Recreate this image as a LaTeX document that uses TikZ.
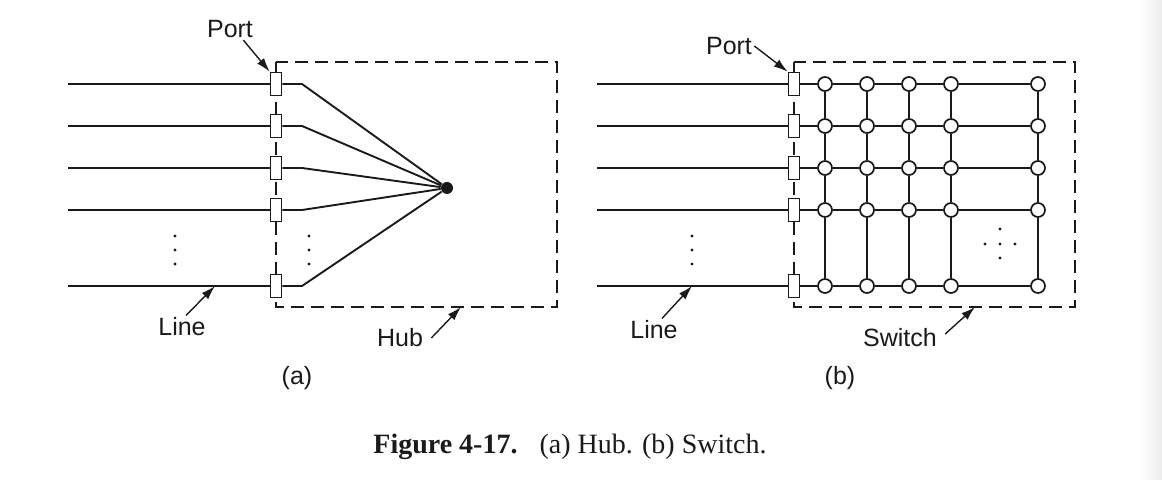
\documentclass[tikz,border=0pt]{standalone}
\usepackage{fontspec}
\setmainfont{Liberation Serif}
\setsansfont{Liberation Sans}
\usetikzlibrary{positioning,arrows.meta}
\definecolor{ink}{HTML}{1A1A1A}
\tikzset{
  font=\sffamily,
  >={Latex[length=7pt,width=4.4pt]},
  %% nodes
  portbox/.style = {draw=ink, line width=0.8pt, fill=white, inner sep=0pt,
                    minimum width=5.5pt, minimum height=11.5pt},
  xpt/.style     = {circle, draw=ink, line width=0.85pt, fill=white,
                    inner sep=0pt, minimum size=7pt},
  hubdot/.style  = {circle, fill=ink, inner sep=0pt, minimum size=6pt},
  %% lines
  wire/.style    = {draw=ink, line width=0.95pt},
  frame/.style   = {draw=ink, line width=0.7pt, dash pattern=on 6.5pt off 3.5pt},
  ptr/.style     = {->, draw=ink, line width=0.7pt},
  %% annotations
  lbl/.style     = {font=\sffamily\fontsize{12.5}{14}\selectfont, text=ink, inner sep=1pt},
  caption/.style = {font=\rmfamily\fontsize{14}{16}\selectfont, text=ink},
}
\begin{document}
\begin{tikzpicture}[x=0.5pt, y=-0.5pt]
\useasboundingbox (0,0) rectangle (1162,480);
\shade[left color=white, right color=black!7, draw=none] (1140,0) rectangle (1162,480);

%% ---- (a) hub ----
\draw[frame] (276,62) rectangle (557,307);
\node[hubdot] (hub) at (447,188) {};
\foreach \r/\y in {1/84,2/126,3/168,4/210,5/286}{
  \coordinate (la-\r) at (68,\y);
  \node[portbox] (pa-\r) at (276,\y) {};
  \coordinate (ka-\r) at (302,\y);
  \draw[wire] (la-\r) -- (pa-\r.west);
  \draw[wire] (pa-\r.east) -- (ka-\r) -- (hub);
}
\foreach \y in {236,250,264}{
  \fill[ink] (175,\y) circle (0.85pt);
  \fill[ink] (309,\y) circle (0.85pt);
}

\node[lbl] (portA) at (230,29) {Port};
\draw[ptr] ([xshift=-6pt]portA.south east) -- (pa-1.north west);
\coordinate (lineA-tip) at (215,286);
\node[lbl] (lineA) at (182,327) {Line};
\draw[ptr] ([xshift=2pt]lineA.north) -- (lineA-tip);
\coordinate (hub-tip) at (461,307);
\node[lbl] (hubA) at (400,338) {Hub};
\draw[ptr] ([xshift=3pt]hubA.east) -- (hub-tip);
\node[lbl] (capA) at (297,378) {(a)};

%% ---- (b) switch ----
\draw[frame] (794,62) rectangle (1075,307);
\foreach \r/\y in {1/84,2/126,3/168,4/210,5/286}{
  \coordinate (lb-\r) at (597,\y);
  \node[portbox] (pb-\r) at (794,\y) {};
  \foreach \c/\x in {1/825,2/867,3/909,4/951,5/1038}
    \node[xpt] (s-\r-\c) at (\x,\y) {};
  \draw[wire] (lb-\r) -- (pb-\r.west);
  \draw[wire] (pb-\r.east) -- (s-\r-1) -- (s-\r-2) -- (s-\r-3) -- (s-\r-4) -- (s-\r-5);
}
\foreach \c in {1,...,5}
  \draw[wire] (s-1-\c) -- (s-2-\c) -- (s-3-\c) -- (s-4-\c) -- (s-5-\c);
\foreach \y in {236,250,264}
  \fill[ink] (692,\y) circle (0.85pt);
\foreach \p in {(1000,229),(985,244),(1000,244),(1015,244),(1000,258)}
  \fill[ink] \p circle (0.85pt);

\node[lbl] (portB) at (729,46) {Port};
\draw[ptr] (portB.east) -- (pb-1.north west);
\coordinate (lineB-tip) at (692,286);
\node[lbl] (lineB) at (654,330) {Line};
\draw[ptr] ([xshift=4pt]lineB.north) -- (lineB-tip);
\coordinate (sw-tip) at (975,307);
\node[lbl] (swB) at (900,338) {Switch};
\draw[ptr] ([xshift=3pt,yshift=2pt]swB.east) -- (sw-tip);
\node[lbl] (capB) at (840,378) {(b)};

%% ---- caption ----
\node[caption] (fig) at (570,447) {\textbf{Figure 4-17.}\hspace{0.45em} (a) Hub. (b) Switch.};
\end{tikzpicture}
\end{document}
